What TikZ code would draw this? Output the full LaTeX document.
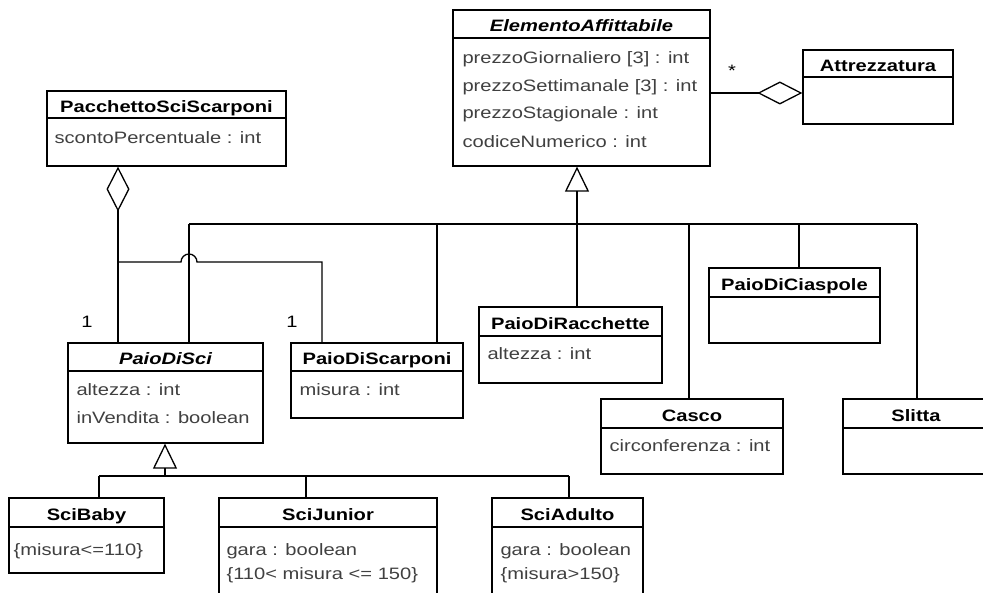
\documentclass[tikz,border=0pt]{standalone}
\usepackage{fontspec}
\setmainfont{Liberation Sans}[FakeStretch=1.22]
\usetikzlibrary{arrows.meta}

\tikzset{
    umlbox/.style={draw, line width=1.3pt, inner sep=0pt},
    umlline/.style={line width=1.3pt},
    umltitle/.style={font=\fontsize{16.5}{20}\selectfont\bfseries, inner sep=0pt, text height=11.8pt, text depth=0pt},
    umlattr/.style={anchor=west, font=\fontsize{16.5}{20}\selectfont, text=black!75, inner sep=0pt, text height=12pt, text depth=0pt},
    gen/.style={line width=1.3pt, -{Triangle[open, length=25pt, width=24pt]}},
    agg/.style={line width=1.3pt, -{Diamond[open, length=45pt, width=23pt]}},
    mult/.style={font=\fontsize{16.5}{20}\selectfont, inner sep=0pt}
}

\begin{document}
\begin{tikzpicture}[x=1pt, y=-1pt]
    \useasboundingbox (0,0) rectangle (983,593);

    % Class boxes
    \node[umlbox, minimum width=257, minimum height=156] (ea) at (581.5,88) {};
    \node[umlbox, minimum width=150, minimum height=74] (att) at (878,87) {};
    \node[umlbox, minimum width=239, minimum height=75] (pss) at (166.5,128.5) {};
    \node[umlbox, minimum width=195, minimum height=100] (pds) at (165.5,393) {};
    \node[umlbox, minimum width=172, minimum height=75] (pdsc) at (377,380.5) {};
    \node[umlbox, minimum width=183, minimum height=76] (pdr) at (570.5,345) {};
    \node[umlbox, minimum width=171, minimum height=75] (pdc) at (794.5,305.5) {};
    \node[umlbox, minimum width=182, minimum height=75] (cas) at (692,436.5) {};
    \node[umlbox, minimum width=146, minimum height=75] (sli) at (916,436.5) {};
    \node[umlbox, minimum width=155, minimum height=75] (sb) at (86.5,535.5) {};
    \node[umlbox, minimum width=218, minimum height=112] (sj) at (328,554) {};
    \node[umlbox, minimum width=151, minimum height=112] (sa) at (567.5,554) {};

    % Name compartments
    \foreach \n/\y in {ea/38, att/77, pss/118, pds/371, pdsc/371, pdr/336, pdc/297, cas/428, sli/428, sb/527, sj/527, sa/527}
        \draw[umlline] (\n.west |- 0,\y) -- (\n.east |- 0,\y);

    % Class names
    \foreach \n/\y/\t in {ea/26/{\itshape ElementoAffittabile}, att/65.5/Attrezzatura, pss/106.5/PacchettoSciScarponi,
                          pds/359/{\itshape PaioDiSci}, pdsc/359/PaioDiScarponi, pdr/323.5/PaioDiRacchette,
                          pdc/284.5/PaioDiCiaspole, cas/415.5/Casco, sli/415.5/Slitta,
                          sb/514.5/SciBaby, sj/514.5/SciJunior, sa/514.5/SciAdulto}
        \node[umltitle] (\n-t) at (\n.north |- 0,\y) {\t};

    % Attributes
    \foreach \n/\i/\dx/\y/\t in {ea/1/10/58/prezzoGiornaliero [3] : int, ea/2/10/86/prezzoSettimanale [3] : int,
                                 ea/3/10/113/prezzoStagionale : int, ea/4/10/142/codiceNumerico : int,
                                 pss/1/8/138/scontoPercentuale : int,
                                 pds/1/9/390/altezza : int, pds/2/9/418/inVendita : boolean,
                                 pdsc/1/9/390/misura : int, pdr/1/9/354/altezza : int,
                                 cas/1/9/446/circonferenza : int,
                                 sb/1/5/549/\{misura<=110\},
                                 sj/1/8/549/gara : boolean, sj/2/8/573/\{110< misura <= 150\},
                                 sa/1/9/549/gara : boolean, sa/2/9/573/\{misura>150\}}
        \node[umlattr, xshift=\dx] (\n-a\i) at (\n.west |- 0,\y) {\t};

    % Junctions of the connectors
    \coordinate (jsci) at (189,224);
    \coordinate (jsc) at (437,224);
    \coordinate (jra) at (577,224);
    \coordinate (jca) at (689,224);
    \coordinate (jci) at (799,224);
    \coordinate (jsl) at (917,224);
    \coordinate (kt) at (165,476);
    \coordinate (kb) at (99,476);
    \coordinate (kj) at (306,476);
    \coordinate (ka) at (569,476);
    \coordinate (ag) at (118,262);
    \coordinate (hop) at (181,262);
    \coordinate (ak) at (322,262);
    \coordinate (aa) at (0,93);

    % Generalization to ElementoAffittabile
    \draw[gen] (pdr.north -| jra) -- (ea.south -| jra);
    \draw[umlline] (jsci) -- (jsl);
    \foreach \n/\j in {pds/jsci, pdsc/jsc, cas/jca, pdc/jci, sli/jsl}
        \draw[umlline] (\n.north -| \j) -- (\j);

    % Generalization to PaioDiSci
    \draw[gen] (kt) -- (pds.south -| kt);
    \draw[umlline] (kb) -- (ka);
    \foreach \n/\k in {sb/kb, sj/kj, sa/ka}
        \draw[umlline] (\n.north -| \k) -- (\k);

    % Aggregations
    \draw[agg] (pds.north -| ag) -- (pss.south -| ag);
    \draw[umlline] (ag) -- (hop) arc[start angle=180, end angle=0, radius=8pt] -- (ak) -- (pdsc.north -| ak);
    \draw[agg] (ea.east |- aa) -- (att.west |- aa);

    % Multiplicities
    \node[mult] (m1) at (87,322) {1};
    \node[mult] (m2) at (292,322) {1};
    \node[mult] (m3) at (732,71) {*};
\end{tikzpicture}
\end{document}
